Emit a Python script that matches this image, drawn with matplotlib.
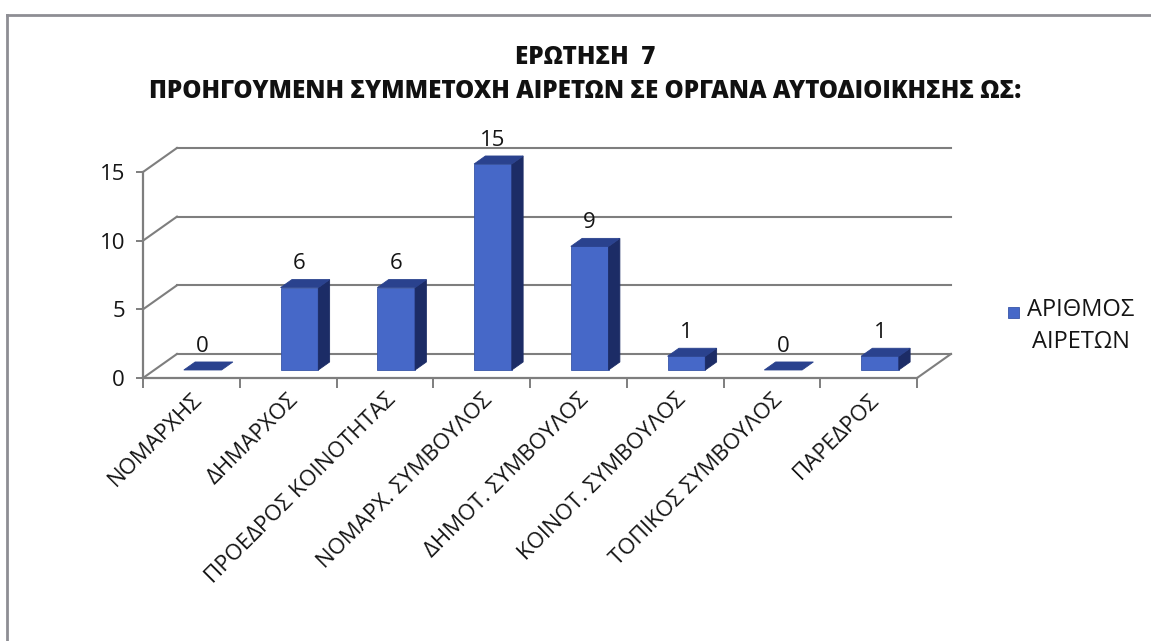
import matplotlib
matplotlib.use("Agg")
import matplotlib.pyplot as plt
from matplotlib.patches import Polygon, Rectangle
from matplotlib.lines import Line2D

plt.rcParams['font.family'] = ['Open Sans', 'DejaVu Sans']

# datos del grafico
categorias = ["ΝΟΜΑΡΧΗΣ", "ΔΗΜΑΡΧΟΣ", "ΠΡΟΕΔΡΟΣ ΚΟΙΝΟΤΗΤΑΣ", "ΝΟΜΑΡΧ. ΣΥΜΒΟΥΛΟΣ",
              "ΔΗΜΟΤ. ΣΥΜΒΟΥΛΟΣ", "ΚΟΙΝΟΤ. ΣΥΜΒΟΥΛΟΣ", "ΤΟΠΙΚΟΣ ΣΥΜΒΟΥΛΟΣ", "ΠΑΡΕΔΡΟΣ"]
valores = [0, 6, 6, 15, 9, 1, 0, 1]
marcas_y = [0, 5, 10, 15]
serie = "ΑΡΙΘΜΟΣ\nΑΙΡΕΤΩΝ"
titulo_1 = "ΕΡΩΤΗΣΗ  7"
titulo_2 = "ΠΡΟΗΓΟΥΜΕΝΗ ΣΥΜΜΕΤΟΧΗ ΑΙΡΕΤΩΝ ΣΕ ΟΡΓΑΝΑ ΑΥΤΟΔΙΟΙΚΗΣΗΣ ΩΣ:"

# estilo
W, H = 1151, 641
c_frente = "#4668C8"
c_lado = "#1C2C66"
c_tapa = "#2A428E"
c_grid = "#7E7E7E"
c_texto = "#151515"
DX = 0.351   # desplazamiento de profundidad (unidades de categoria)
DY = 1.75    # desplazamiento de profundidad (unidades de valor)
ancho = 0.39
z0, z1 = 1 / 3, 2 / 3


def p(x, y, z):
    return (x + z * DX, y + z * DY)


fig = plt.figure(figsize=(W / 100, H / 100), dpi=100)
fig.patch.set_facecolor("white")
ax = fig.add_axes([143 / W, 1 - 378 / H, 774 / W, 206 / H])
n = len(categorias)
ax.set_xlim(0, n)
ax.set_ylim(0, max(marcas_y))
ax.set_facecolor("none")

# paredes y rejilla
for v in marcas_y:
    a, b = p(0, v, 1), p(n, v, 1)
    ax.plot([a[0], b[0]], [a[1], b[1]], color=c_grid, lw=1.5, clip_on=False, zorder=1)
    a, b = p(0, v, 0), p(0, v, 1)
    ax.plot([a[0], b[0]], [a[1], b[1]], color=c_grid, lw=1.5, clip_on=False, zorder=1)
a, b = p(n, 0, 0), p(n, 0, 1)
ax.plot([a[0], b[0]], [a[1], b[1]], color=c_grid, lw=1.5, clip_on=False, zorder=1)

# barras
for i, v in enumerate(valores):
    x0 = i + 0.5 - ancho / 2
    x1 = x0 + ancho
    if v > 0:
        frente = [p(x0, 0, z0), p(x1, 0, z0), p(x1, v, z0), p(x0, v, z0)]
        lado = [p(x1, 0, z0), p(x1, 0, z1), p(x1, v, z1), p(x1, v, z0)]
        ax.add_patch(Polygon(frente, closed=True, facecolor=c_frente, edgecolor="#3755A8",
                             lw=0.6, clip_on=False, zorder=3))
        ax.add_patch(Polygon(lado, closed=True, facecolor=c_lado, edgecolor=c_lado,
                             lw=0.6, clip_on=False, zorder=3))
    tapa = [p(x0, v, z0), p(x1, v, z0), p(x1, v, z1), p(x0, v, z1)]
    ax.add_patch(Polygon(tapa, closed=True, facecolor=c_tapa, edgecolor=c_tapa,
                         lw=0.6, clip_on=False, zorder=3))
    ax.annotate(str(v), xy=p(i + 0.5, v, z0), xytext=(0, 17), textcoords="offset points",
                ha="center", va="center", fontsize=16, color=c_texto, zorder=4,
                annotation_clip=False)

# ejes
for s in ["top", "right"]:
    ax.spines[s].set_visible(False)
for s in ["left", "bottom"]:
    ax.spines[s].set_color("#7E7E7E")
    ax.spines[s].set_linewidth(1.6)
    ax.spines[s].set_zorder(2)
ax.set_yticks(marcas_y)
ax.tick_params(axis="y", length=5, width=1.4, color="#7E7E7E", labelsize=16,
               labelcolor=c_texto, pad=8)
ax.set_xticks(range(n + 1))
ax.set_xticklabels([])
ax.set_xticks([i + 0.5 for i in range(n)], minor=True)
ax.set_xticklabels(categorias, minor=True, rotation=45, ha="right", va="top",
                   rotation_mode="anchor", fontsize=16, color=c_texto)
ax.tick_params(axis="x", which="major", length=7, width=1.4, color="#7E7E7E")
ax.tick_params(axis="x", which="minor", length=0, pad=8)

# leyenda
fig.add_artist(Rectangle((1008 / W, 1 - 318 / H), 11 / W, 11 / H, transform=fig.transFigure,
                         facecolor=c_frente, edgecolor="#3755A8", lw=0.6))
fig.text(1081 / W, 1 - 298 / H, serie, ha="center", va="top", fontsize=17,
         color=c_texto, linespacing=1.45, multialignment="center")

# titulo
fig.text(585 / W, 1 - 57 / H, titulo_1, ha="center", va="center", fontsize=17.5,
         fontweight=800, color="#111111")
fig.text(585 / W, 1 - 92 / H, titulo_2, ha="center", va="center", fontsize=17.5,
         fontweight=800, color="#111111")

# marco
fig.add_artist(Line2D([7 / W, 1], [1 - 15 / H, 1 - 15 / H], transform=fig.transFigure,
                      color="#8E8E94", lw=2))
fig.add_artist(Line2D([7 / W, 7 / W], [0, 1 - 15 / H], transform=fig.transFigure,
                      color="#8E8E94", lw=2))

fig.savefig("out.png", dpi=100)
